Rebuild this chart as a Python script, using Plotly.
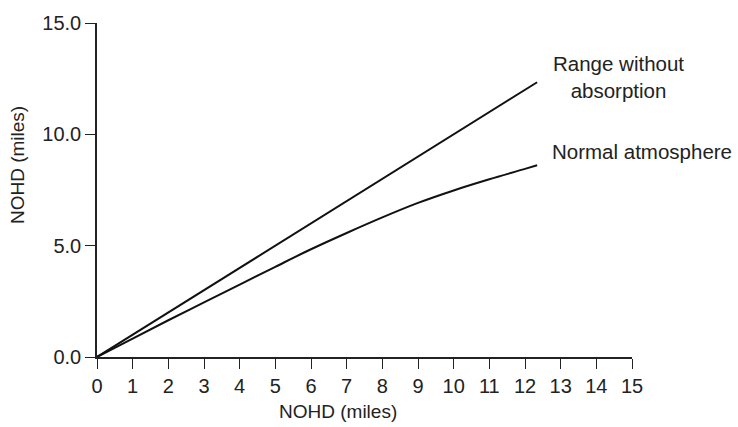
import plotly.graph_objects as go

# Data
x_range_no_abs = [0, 12.34]
y_range_no_abs = [0, 12.34]

x_normal = [0, 1, 2, 3, 4, 5, 6, 7, 8, 9, 10, 11, 12, 12.34]
y_normal = [0, 0.83, 1.65, 2.45, 3.25, 4.05, 4.84, 5.57, 6.27, 6.92, 7.48, 7.98, 8.45, 8.61]

x_ticks = list(range(0, 16))
y_ticks = [0, 5, 10, 15]

FAM = "Liberation Sans, Arial, sans-serif"
tick_font = dict(family=FAM, size=20, color="#222")
title_font = dict(family=FAM, size=19, color="#222")
ann_font = dict(family=FAM, size=20.5, color="#222")

# pixel helpers for plot-area geometry
L, R, T, B = 97, 106, 16, 70
PW, PH = 738 - L - R, 427 - T - B

fig = go.Figure()
fig.add_trace(go.Scatter(x=x_range_no_abs, y=y_range_no_abs, mode="lines",
                         line=dict(color="#111", width=2), showlegend=False))
fig.add_trace(go.Scatter(x=x_normal, y=y_normal, mode="lines", line_shape="spline",
                         line=dict(color="#111", width=2), showlegend=False))

fig.update_layout(
    width=738, height=427,
    margin=dict(l=L, r=R, t=T, b=B),
    paper_bgcolor="white", plot_bgcolor="white",
    font=tick_font,
    xaxis=dict(range=[0, 15], tickmode="array", tickvals=x_ticks, tickfont=tick_font,
               ticks="outside", ticklen=10, tickwidth=1.3, tickcolor="#222",
               showline=True, linecolor="#222", linewidth=1.5,
               showgrid=False, zeroline=False, fixedrange=True),
    yaxis=dict(range=[0, 15], tickmode="array", tickvals=y_ticks, tickformat=".1f",
               tickfont=tick_font,
               ticks="outside", ticklen=10, tickwidth=1.3, tickcolor="#222",
               showline=True, linecolor="#222", linewidth=1.5,
               showgrid=False, zeroline=False, fixedrange=True),
    annotations=[
        dict(text="NOHD (miles)", xref="paper", yref="paper", x=(338 - L) / PW, y=-(413 - (427 - B)) / PH,
             showarrow=False, xanchor="center", yanchor="middle", font=title_font),
        dict(text="NOHD (miles)", xref="paper", yref="paper", x=-(L - 17) / PW, y=((427 - B) - 161) / PH,
             showarrow=False, xanchor="center", yanchor="middle", textangle=-90, font=title_font),
        dict(text="Range without<br>absorption", xref="paper", yref="paper", x=(618 - L) / PW,
             y=((427 - B) - 71.5) / PH, showarrow=False, xanchor="center", yanchor="middle",
             align="center", borderpad=0, font=ann_font),
        dict(text="Normal atmosphere", xref="paper", yref="paper", x=(550 - L) / PW,
             y=((427 - B) - 147) / PH, showarrow=False, xanchor="left", yanchor="middle", font=ann_font),
    ],
)

fig.write_html("out.html")
